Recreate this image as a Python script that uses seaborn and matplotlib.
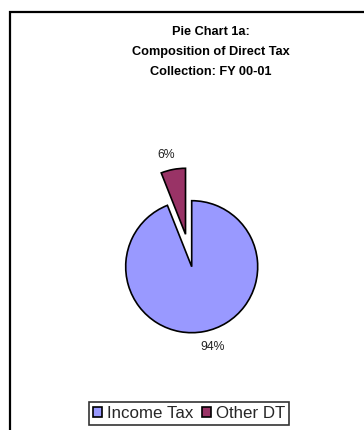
import matplotlib
matplotlib.use('Agg')
import matplotlib.pyplot as plt
import seaborn as sns
from matplotlib.patches import Rectangle

# data
categories = ['Income Tax', 'Other DT']
shares = [94, 6]
explode = [0, 0.5]
colors = ['#9999FF', '#993366']
title = 'Pie Chart 1a:\nComposition of Direct Tax\nCollection: FY 00-01'

sns.set_theme(style='white')
plt.rcParams['font.family'] = ['Liberation Sans', 'DejaVu Sans']

W, H = 364, 430
fig = plt.figure(figsize=(W / 100, H / 100), dpi=100)
fig.patch.set_facecolor('white')

# outer chart frame (runs off the right / bottom edges)
fig.patches.append(Rectangle((10 / W, -0.1), 1.2, 1 - 12 / H + 0.1,
                             transform=fig.transFigure, fill=False,
                             edgecolor='black', linewidth=1.6))

# pie axes: centre (191.7, 266.7) px, radius 66 px
r = 66
cx, cy = 191.7, H - 266.7
ax = fig.add_axes([(cx - 2 * r) / W, (cy - 2 * r) / H, 4 * r / W, 4 * r / H])
wedges, texts, autotexts = ax.pie(shares, explode=explode, colors=colors,
                                  startangle=90, counterclock=False,
                                  autopct='%1.0f%%', pctdistance=1.24,
                                  wedgeprops=dict(edgecolor='black', linewidth=1.2),
                                  textprops=dict(fontsize=8.8, color='#222222'))
# excel-style label placement
autotexts[0].set_position((0.32, -1.22))
autotexts[1].set_position((-0.39, 1.69))
ax.set_xlim(-2, 2)
ax.set_ylim(-2, 2)
ax.set_aspect('auto')
ax.axis('off')

fig.text(211 / W, 1 - 52 / H, title, ha='center', va='center',
         fontsize=9.2, fontweight='bold', linespacing=1.84, color='black')

leg = fig.legend(wedges, categories, loc='center', ncol=2,
                 bbox_to_anchor=(189 / W, 16.5 / H), fontsize=12.2,
                 frameon=True, fancybox=False, handlelength=0.55,
                 handleheight=0.55, handletextpad=0.3, columnspacing=0.5,
                 borderpad=0.22, borderaxespad=0)
leg.get_frame().set_edgecolor('black')
leg.get_frame().set_linewidth(1.2)

fig.savefig('out.png', dpi=100)
